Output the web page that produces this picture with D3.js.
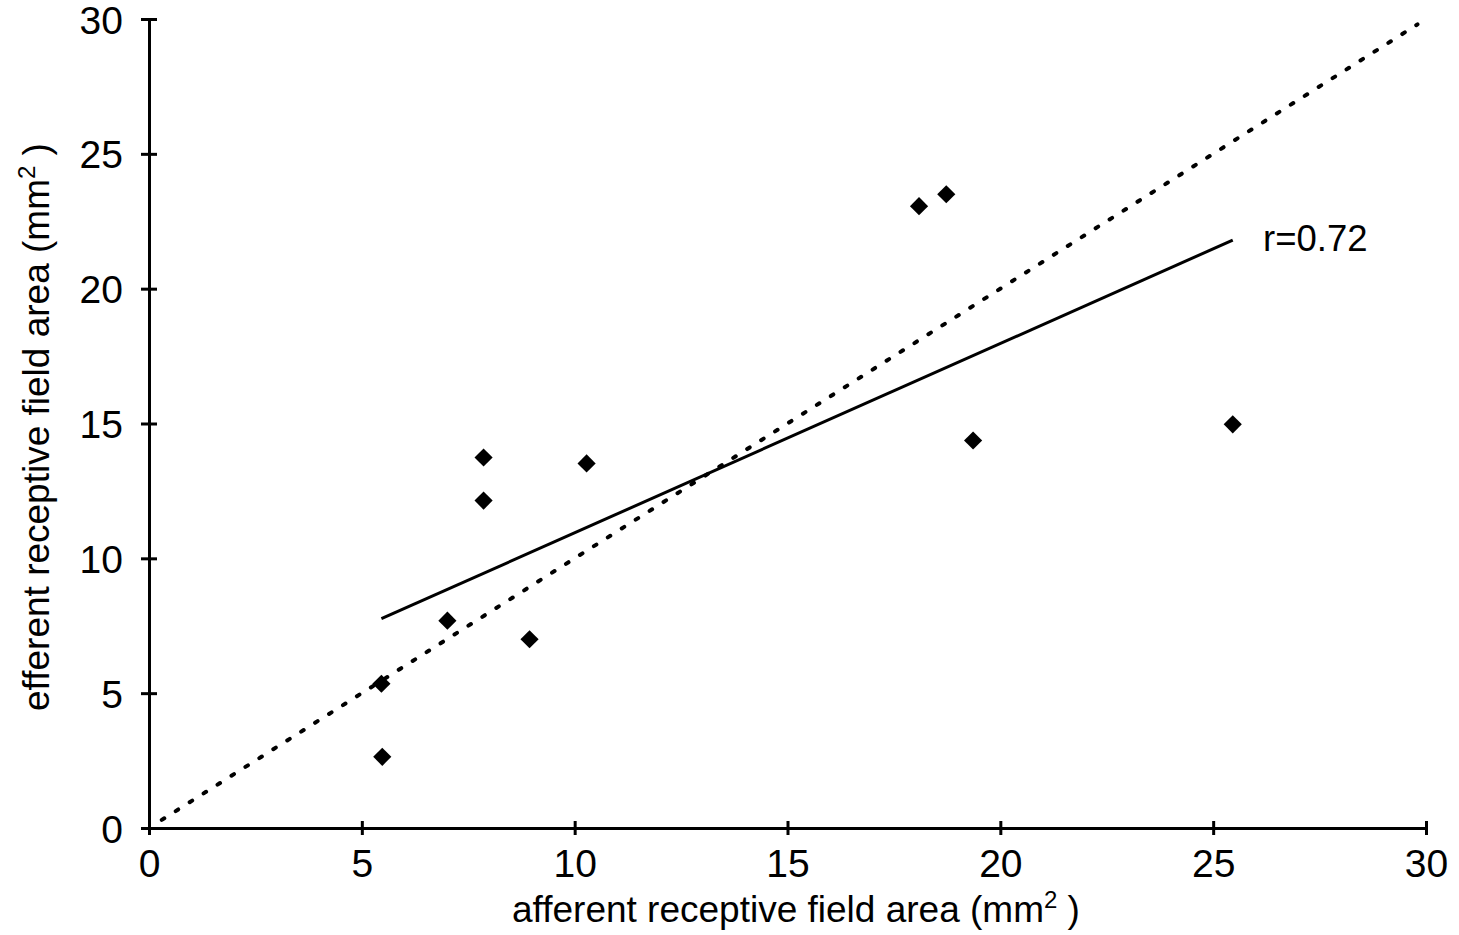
<!DOCTYPE html>
<html>
<head>
<meta charset="utf-8">
<script src="https://cdn.jsdelivr.net/npm/d3@7"></script>
<style>
    body { margin: 0; background: #fff; }
    text { font-family: "Liberation Sans", Arial, sans-serif; fill: #000; }
</style>
</head>
<body>
<div id="chart"></div>
<script>
// afferent (x) vs efferent (y) receptive field area, mm2
var afferent = [5.46, 5.48, 7.01, 7.86, 7.86, 8.94, 10.28, 18.09, 18.73, 19.36, 25.46];
var efferent = [5.35, 2.64, 7.69, 13.74, 12.14, 7.0, 13.52, 23.06, 23.5, 14.37, 14.97];

// fitted line endpoints as drawn
var fitX = [5.46, 25.46];
var fitY = [7.76, 21.8];

// line of identity
var unityX = [0.3, 29.8];
var unityY = [0.3, 29.8];

var xTicks = [0, 5, 10, 15, 20, 25, 30];
var yTicks = [0, 5, 10, 15, 20, 25, 30];

function init() {
    var w = 1459;
    var h = 935;

    var x = d3.scaleLinear().domain([0, 30]).range([149, 1426]);
    var y = d3.scaleLinear().domain([0, 30]).range([828, 19]);

    var svg = d3.select("#chart")
        .append("svg")
        .attr("width", w)
        .attr("height", h);

    var xAxis = svg.append("g")
        .attr("transform", "translate(0," + y(0) + ")")
        .call(d3.axisBottom(x).tickValues(xTicks).tickSizeInner(7).tickSizeOuter(0).tickPadding(14));
    xAxis.selectAll(".tick line").attr("y1", -7);

    var yAxis = svg.append("g")
        .attr("transform", "translate(" + x(0) + ",0)")
        .call(d3.axisLeft(y).tickValues(yTicks).tickSizeInner(8).tickSizeOuter(0).tickPadding(18));
    yAxis.selectAll(".tick line").attr("x1", 8);

    svg.selectAll(".domain").attr("stroke", "#000").attr("stroke-width", 3);
    svg.selectAll(".tick line").attr("stroke", "#000").attr("stroke-width", 3);
    svg.selectAll(".tick text").attr("font-size", "39px").attr("fill", "#000")
        .attr("font-family", "Liberation Sans, Arial, sans-serif");
    xAxis.selectAll(".tick text").attr("dy", "0.71em");
    yAxis.selectAll(".tick text").attr("dy", "0.36em");

    var line = d3.line()
        .x(function (d) { return x(d[0]); })
        .y(function (d) { return y(d[1]); });

    svg.append("path")
        .datum(d3.zip(unityX, unityY))
        .attr("d", line)
        .attr("fill", "none")
        .attr("stroke", "#000")
        .attr("stroke-width", 4)
        .attr("stroke-linecap", "round")
        .attr("stroke-dasharray", "3,13.5");

    svg.append("path")
        .datum(d3.zip(fitX, fitY))
        .attr("d", line)
        .attr("fill", "none")
        .attr("stroke", "#000")
        .attr("stroke-width", 3);

    var diamond = d3.symbol().type(d3.symbolSquare).size(165);

    svg.selectAll(".pt")
        .data(d3.zip(afferent, efferent))
        .enter()
        .append("path")
        .attr("class", "pt")
        .attr("d", diamond)
        .attr("transform", function (d) {
            return "translate(" + x(d[0]) + "," + y(d[1]) + ") rotate(45)";
        })
        .attr("fill", "#000");

    svg.append("text")
        .attr("x", 1263)
        .attr("y", 251)
        .attr("font-size", "36.5px")
        .text("r=0.72");

    var xt = svg.append("text")
        .attr("x", 796)
        .attr("y", 922)
        .attr("text-anchor", "middle")
        .attr("font-size", "37px");
    xt.append("tspan").text("afferent receptive field area (mm");
    xt.append("tspan").attr("font-size", "24px").attr("dy", "-14").text("2");
    xt.append("tspan").attr("dy", "14").text(" )");

    var yt = svg.append("text")
        .attr("transform", "translate(49,427) rotate(-90)")
        .attr("text-anchor", "middle")
        .attr("font-size", "37px");
    yt.append("tspan").text("efferent receptive field area (mm");
    yt.append("tspan").attr("font-size", "24px").attr("dy", "-14").text("2");
    yt.append("tspan").attr("dy", "14").text(" )");
}

window.onload = init;
</script>
</body>
</html>
